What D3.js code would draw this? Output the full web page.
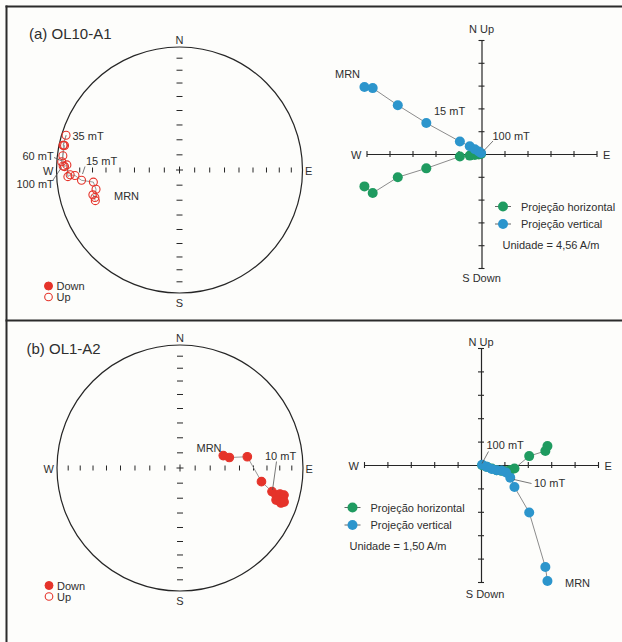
<!DOCTYPE html>
<html><head><meta charset="utf-8">
<script src="https://cdn.jsdelivr.net/npm/d3@7"></script>
<style>body{margin:0;background:#fff} text{font-family:"Liberation Sans",Arial,sans-serif;fill:#2e2e2e}</style>
</head><body><svg id="c" width="622" height="642"></svg>
<script>
// ---------- DATA ----------
// Stereonet (a) OL10-A1 : declination / inclination (negative = Up), NRM -> 100 mT
const stereoDecA = [250, 254, 252, 257, 262, 264, 267, 267.5, 266.6, 272.6, 271.7, 274, 282, 282, 287, 282, 277, 272];
const stereoIncA = [-28, -27.6, -28.5, -31, -30, -21, -16, -12, -10, -9.2, -7.2, -4.5, -5, -3.6, -4, -4, -5, -6];
// Stereonet (b) OL1-A2
const stereoDecB = [74, 78, 80.5, 99.5, 104.4, 105.7, 104.6, 104.6, 106.8, 108.4, 108.4, 109.1, 108.1];
const stereoIncB = [60, 56.3, 43.8, 33.3, 23.8, 20.0, 17.1, 13.7, 13.6, 16.2, 18.8, 14.2, 12.0];
// Zijderveld (a) components in plot units (1 unit = 4,56 A/m)
const zijEastA  = [-5.09, -4.73, -3.64, -2.40, -0.94, -0.51, -0.29, -0.12, -0.02];
const zijNorthA = [-1.42, -1.71, -1.02, -0.63, -0.11, -0.07, -0.04, -0.02, 0.00];
const zijUpA    = [2.94, 2.89, 2.14, 1.36, 0.55, 0.34, 0.21, 0.11, 0.04];
// Zijderveld (b) components in plot units (1 unit = 1,50 A/m)
const zijEastB  = [2.84, 2.75, 2.06, 1.43, 1.25, 1.07, 0.88, 0.67, 0.46, 0.25, 0.05];
const zijNorthB = [0.81, 0.60, 0.38, -0.15, -0.21, -0.27, -0.25, -0.22, -0.15, -0.08, -0.01];
const zijUpB    = [-4.96, -4.36, -2.03, -0.94, -0.54, -0.32, -0.24, -0.22, -0.17, -0.08, 0.01];
// ticks
const stereoTickIncs = [10, 20, 30, 40, 50, 60, 70, 80];
const zijTicks = [-5, -4, -3, -2, -1, 0, 1, 2, 3, 4, 5];
const legendStereo = ["Down", "Up"];
const legendZij = ["Projeção horizontal", "Projeção vertical"];

// ---------- STYLE ----------
const RED = "#e5332a", GREEN = "#1f9b60", BLUE = "#2c95cc", INK = "#262626", LINK = "#8c8c8c";
const svg = d3.select("#c");
svg.append("rect").attr("width", 622).attr("height", 642).attr("fill", "#fdfdfb");
const frame = svg.append("g").attr("stroke", "#2b2b2b").attr("stroke-width", 2);
frame.append("line").attr("x1", 5.5).attr("x2", 622).attr("y1", 6.5).attr("y2", 6.5);
frame.append("line").attr("x1", 6.5).attr("x2", 6.5).attr("y1", 5.5).attr("y2", 642);
frame.append("line").attr("x1", 5.5).attr("x2", 622).attr("y1", 320.5).attr("y2", 320.5);

function txt(g, x, y, s, size, anchor) {
  return g.append("text").attr("x", x).attr("y", y).attr("font-size", size || 11)
    .attr("text-anchor", anchor || "start").text(s);
}
function seg(g, x1, y1, x2, y2, col, w) {
  return g.append("line").attr("x1", x1).attr("y1", y1).attr("x2", x2).attr("y2", y2)
    .attr("stroke", col || INK).attr("stroke-width", w || 1);
}

function stereo(cfg) {
  const { cx, cy, r, dec, inc } = cfg;
  const g = svg.append("g");
  const rho = d3.scaleLinear().domain([0, 1]).range([0, r]);
  const eq = I => Math.SQRT2 * Math.sin((90 - Math.abs(I)) / 2 * Math.PI / 180);
  g.append("circle").attr("cx", cx).attr("cy", cy).attr("r", r)
    .attr("fill", "none").attr("stroke", INK).attr("stroke-width", 1.2);
  stereoTickIncs.forEach(I => {
    const d = rho(eq(I));
    [-1, 1].forEach(s => {
      seg(g, cx + s * d, cy - 2.5, cx + s * d, cy + 2.5, INK, 1);
      seg(g, cx - 3, cy + s * d, cx + 3, cy + s * d, INK, 1);
    });
  });
  seg(g, cx - 3.5, cy, cx + 3.5, cy, INK, 1);
  seg(g, cx, cy - 3.5, cx, cy + 3.5, INK, 1);
  txt(g, cx, cy - r - 3, "N", 11, "middle");
  txt(g, cx, cy + r + 14, "S", 11, "middle");
  txt(g, cx - r - 3, cy + 4.5, "W", 11, "end");
  txt(g, cx + r + 2.5, cy + 4.5, "E", 11, "start");
  const pts = dec.map((D, i) => {
    const d = rho(eq(inc[i])), a = D * Math.PI / 180;
    return [cx + d * Math.sin(a), cy - d * Math.cos(a), inc[i]];
  });
  g.append("path").attr("d", d3.line()(pts.map(p => [p[0], p[1]])))
    .attr("fill", "none").attr("stroke", LINK).attr("stroke-width", 0.9);
  g.selectAll(".pt").data(pts).join("circle")
    .attr("cx", p => p[0]).attr("cy", p => p[1]).attr("r", p => p[2] >= 0 ? 4.3 : 4)
    .attr("fill", p => p[2] >= 0 ? RED : "none")
    .attr("stroke", RED).attr("stroke-width", 1.1);
  // legend
  const L = cfg.legend;
  g.append("circle").attr("cx", L[0]).attr("cy", L[1]).attr("r", 4).attr("fill", RED).attr("stroke", RED);
  txt(g, L[0] + 8, L[1] + 4, legendStereo[0]);
  g.append("circle").attr("cx", L[0]).attr("cy", L[1] + 11).attr("r", 3.8).attr("fill", "none").attr("stroke", RED).attr("stroke-width", 1.1);
  txt(g, L[0] + 8, L[1] + 15, legendStereo[1]);
  return g;
}

function zij(cfg) {
  const { ox, oy, sx, sy, E, N, U } = cfg;
  const x = d3.scaleLinear().domain([-5, 5]).range([ox - 5 * sx, ox + 5 * sx]);
  const y = d3.scaleLinear().domain([-5, 5]).range([oy + 5 * sy, oy - 5 * sy]);
  const g = svg.append("g");
  g.append("g").attr("transform", `translate(0,${y(0)})`)
    .call(d3.axisBottom(x).tickValues(zijTicks).tickSize(6).tickSizeOuter(0).tickFormat(""))
    .call(a => a.selectAll(".tick line").attr("y1", -3).attr("y2", 3).attr("stroke", INK).attr("stroke-width", 1.1))
    .call(a => a.select(".domain").attr("stroke", INK).attr("stroke-width", 1.2));
  g.append("g").attr("transform", `translate(${x(0)},0)`)
    .call(d3.axisLeft(y).tickValues(zijTicks).tickSize(6).tickSizeOuter(0).tickFormat(""))
    .call(a => a.selectAll(".tick line").attr("x1", -3).attr("x2", 3).attr("stroke", INK).attr("stroke-width", 1.1))
    .call(a => a.select(".domain").attr("stroke", INK).attr("stroke-width", 1.2));
  const A = cfg.axisLab;
  txt(g, x(0), y(5) - A[0], "N Up", 11, "middle");
  txt(g, x(0) + A[2], y(-5) + A[1], "S Down", 11, "middle");
  txt(g, x(-5) - 5, y(0) + 4.5, "W", 11, "end");
  txt(g, x(5) + 6.5, y(0) + 4.5, "E", 11, "start");
  const hor = E.map((e, i) => [x(e), y(N[i])]);
  const ver = E.map((e, i) => [x(e), y(U[i])]);
  [[hor, GREEN], [ver, BLUE]].forEach(([pts, col]) => {
    g.append("path").attr("d", d3.line()(pts)).attr("fill", "none").attr("stroke", LINK).attr("stroke-width", 1);
  });
  [[hor, GREEN], [ver, BLUE]].forEach(([pts, col]) => {
    g.append("g").selectAll("circle").data(pts).join("circle")
      .attr("cx", p => p[0]).attr("cy", p => p[1]).attr("r", 5).attr("fill", col);
  });
  const L = cfg.legend;
  [GREEN, BLUE].forEach((col, i) => {
    const yy = L[1] + i * 17.5;
    seg(g, L[0] - 8, yy, L[0] + 8, yy, "#666", 1);
    g.append("circle").attr("cx", L[0]).attr("cy", yy).attr("r", 5).attr("fill", col);
    txt(g, L[0] + 18, yy + 4, legendZij[i]);
  });
  txt(g, cfg.unit[0], cfg.unit[1], cfg.unitText);
  return { g, x, y };
}

// ---------- PANEL (a) ----------
const ga = stereo({ cx: 179.5, cy: 170, r: 123, dec: stereoDecA, inc: stereoIncA, legend: [48.5, 286] });
txt(ga, 29, 38.5, "(a) OL10-A1", 15);
txt(ga, 72.5, 139.5, "35 mT");
txt(ga, 22.5, 160, "60 mT");
seg(ga, 54, 157.5, 62, 161, "#555", 0.8);
txt(ga, 16.5, 187.5, "100 mT");
seg(ga, 53, 180, 61.5, 167.5, "#555", 0.8);
txt(ga, 86, 164.5, "15 mT");
seg(ga, 85, 166.5, 82.5, 174, "#555", 0.8);
txt(ga, 114, 199.5, "MRN");

const za = zij({ ox: 481.5, oy: 154, sx: 23, sy: 22.8, E: zijEastA, N: zijNorthA, U: zijUpA,
  axisLab: [7.5, 14, 0], legend: [503, 206.5], unit: [502.5, 249], unitText: "Unidade = 4,56 A/m" });
txt(za.g, 335, 78, "MRN");
txt(za.g, 434, 115, "15 mT");
txt(za.g, 492.5, 139.5, "100 mT");
seg(za.g, 484, 150.5, 493, 141, "#555", 0.8);

// ---------- PANEL (b) ----------
const gb = stereo({ cx: 180, cy: 468, r: 123, dec: stereoDecB, inc: stereoIncB, legend: [49, 585.5] });
txt(gb, 26.5, 354, "(b) OL1-A2", 15);
txt(gb, 196.5, 451.5, "MRN");
txt(gb, 265, 459.5, "10 mT");
seg(gb, 276.5, 461.5, 272.5, 490, "#555", 0.8);

const zb = zij({ ox: 481, oy: 465, sx: 23.4, sy: 23.4, E: zijEastB, N: zijNorthB, U: zijUpB,
  axisLab: [2.5, 16, 4], legend: [352.5, 507.5], unit: [349.5, 550], unitText: "Unidade = 1,50 A/m" });
txt(zb.g, 486.5, 448.5, "100 mT");
seg(zb.g, 482, 463.5, 488.5, 451.5, "#555", 0.8);
txt(zb.g, 534, 487, "10 mT");
seg(zb.g, 514, 479.5, 531.5, 483.5, "#555", 0.8);
txt(zb.g, 565, 587, "MRN");
</script></body></html>
